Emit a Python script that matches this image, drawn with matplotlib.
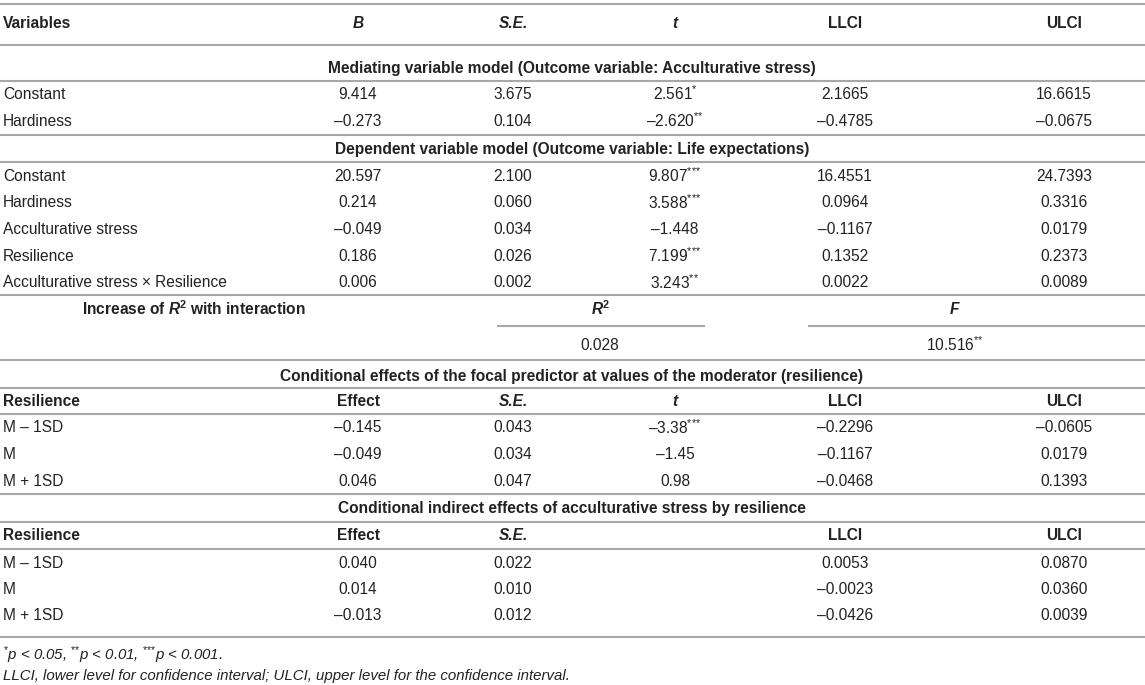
import matplotlib
matplotlib.use("Agg")
import matplotlib.pyplot as plt
from matplotlib import font_manager as fm

plt.rcParams.update({
    "font.family": ["Liberation Sans", "DejaVu Sans"],
    "mathtext.fontset": "custom",
    "mathtext.rm": "Liberation Sans",
    "mathtext.it": "Liberation Sans:italic",
    "mathtext.bf": "Liberation Sans:bold",
    "mathtext.bfit": "Liberation Sans:bold:italic",
})
names = {f.name for f in fm.fontManager.ttflist}
NARROW = "Liberation Sans Narrow" if "Liberation Sans Narrow" in names else "Liberation Sans"

# ---------------------------------------------------------------- data
HEADERS = ["B", "S.E.", "t", "LLCI", "ULCI"]
HEAD_ITALIC = [True, True, True, False, False]

MED_TITLE = "Mediating variable model (Outcome variable: Acculturative stress)"
MED_VARS = ["Constant", "Hardiness"]
MED_B = [9.414, -0.273]
MED_SE = [3.675, 0.104]
MED_T = [2.561, -2.620]
MED_SIG = ["*", "**"]
MED_LL = [2.1665, -0.4785]
MED_UL = [16.6615, -0.0675]

DEP_TITLE = "Dependent variable model (Outcome variable: Life expectations)"
DEP_VARS = ["Constant", "Hardiness", "Acculturative stress", "Resilience",
            "Acculturative stress \u00d7 Resilience"]
DEP_B = [20.597, 0.214, -0.049, 0.186, 0.006]
DEP_SE = [2.100, 0.060, 0.034, 0.026, 0.002]
DEP_T = [9.807, 3.588, -1.448, 7.199, 3.243]
DEP_SIG = ["***", "***", "", "***", "**"]
DEP_LL = [16.4551, 0.0964, -0.1167, 0.1352, 0.0022]
DEP_UL = [24.7393, 0.3316, 0.0179, 0.2373, 0.0089]

R2_VAL = 0.028
F_VAL = 10.516
F_SIG = "**"

COND_TITLE = "Conditional effects of the focal predictor at values of the moderator (resilience)"
LEVELS = ["M \u2013 1SD", "M", "M + 1SD"]
COND_EFF = [-0.145, -0.049, 0.046]
COND_SE = [0.043, 0.034, 0.047]
COND_T = [-3.38, -1.45, 0.98]
COND_SIG = ["***", "", ""]
COND_LL = [-0.2296, -0.1167, -0.0468]
COND_UL = [-0.0605, 0.0179, 0.1393]

IND_TITLE = "Conditional indirect effects of acculturative stress by resilience"
IND_EFF = [0.040, 0.014, -0.013]
IND_SE = [0.022, 0.010, 0.012]
IND_LL = [0.0053, -0.0023, -0.0426]
IND_UL = [0.0870, 0.0360, 0.0039]

FOOT1 = r"$^{{*}}$p < 0.05, $^{{*}{*}}$p < 0.01, $^{{*}{*}{*}}$p < 0.001."
FOOT2 = "LLCI, lower level for confidence interval; ULCI, upper level for the confidence interval."

# ---------------------------------------------------------------- layout
W, H = 1145, 685
COLX = [358, 513, 675, 845, 1064]
LEFT = 3
MID = 572
FS = 11.2
TXT = "#222222"
LINE = "#a8a8a8"

fig = plt.figure(figsize=(W / 100, H / 100), dpi=100)
ax = fig.add_axes([0, 0, 1, 1])
ax.set_xlim(0, W); ax.set_ylim(H, 0); ax.axis("off")


def stars(sig):
    # braces keep mathtext from spacing "*" like a binary operator
    return r"$^{" + "".join("{*}" for _ in sig) + "}$" if sig else ""


def num(v, d, sig=""):
    return f"{v:.{d}f}".replace("-", "\u2013") + stars(sig)


def put(x, y, s, ha="center", **kw):
    kw.setdefault("fontsize", FS)
    kw.setdefault("color", TXT)
    ax.text(x, y, s, ha=ha, va="center", **kw)


def hline(y, x0=0, x1=W):
    ax.plot([x0, x1], [y, y], color=LINE, lw=1.5, solid_capstyle="butt")


def row(y, label, vals, bold=False):
    put(LEFT, y, label, ha="left", fontweight="bold" if bold else "normal")
    for x, v in zip(COLX, vals):
        if v is not None:
            put(x, y, v)


for y in [4, 45, 81, 135, 162, 295, 360, 388, 414, 494, 522, 549, 637]:
    hline(y)

# header
put(LEFT, 23, "Variables", ha="left", fontweight="bold")
for x, hd, it in zip(COLX, HEADERS, HEAD_ITALIC):
    put(x, 23, hd, fontweight="bold", fontstyle="italic" if it else "normal")

# mediating model
put(MID, 68, MED_TITLE, fontweight="bold")
for i, y in enumerate([94, 121]):
    row(y, MED_VARS[i], [num(MED_B[i], 3), num(MED_SE[i], 3), num(MED_T[i], 3, MED_SIG[i]),
                         num(MED_LL[i], 4), num(MED_UL[i], 4)])

# dependent model
put(MID, 149, DEP_TITLE, fontweight="bold")
for i, y in enumerate([176, 202.5, 229, 256, 282.5]):
    row(y, DEP_VARS[i], [num(DEP_B[i], 3), num(DEP_SE[i], 3), num(DEP_T[i], 3, DEP_SIG[i]),
                         num(DEP_LL[i], 4), num(DEP_UL[i], 4)])

# R2 change
put(194, 309, r"Increase of $\mathbfit{R}^{\mathbf{2}}$ with interaction", family=NARROW, fontweight="bold")
put(600, 309, r"$\mathbfit{R}^{\mathbf{2}}$", family=NARROW)
put(955, 309, r"$\mathbfit{F}$", family=NARROW)
hline(326, 497, 705)
hline(326, 808, W)
put(600, 345, num(R2_VAL, 3), family=NARROW)
put(955, 345, num(F_VAL, 3, F_SIG), family=NARROW)

# conditional effects
put(MID, 376, COND_TITLE, fontweight="bold")
put(LEFT, 401, "Resilience", ha="left", fontweight="bold")
for x, hd, it in zip(COLX, ["Effect", "S.E.", "t", "LLCI", "ULCI"], [False, True, True, False, False]):
    put(x, 401, hd, fontweight="bold", fontstyle="italic" if it else "normal")
for i, y in enumerate([427.5, 454, 481]):
    row(y, LEVELS[i], [num(COND_EFF[i], 3), num(COND_SE[i], 3), num(COND_T[i], 2, COND_SIG[i]),
                       num(COND_LL[i], 4), num(COND_UL[i], 4)])

# indirect effects
put(MID, 509, IND_TITLE, fontweight="bold")
put(LEFT, 536, "Resilience", ha="left", fontweight="bold")
for x, hd, it in zip(COLX, ["Effect", "S.E.", None, "LLCI", "ULCI"], [False, True, False, False, False]):
    if hd:
        put(x, 536, hd, fontweight="bold", fontstyle="italic" if it else "normal")
for i, y in enumerate([563, 589, 616]):
    row(y, LEVELS[i], [num(IND_EFF[i], 3), num(IND_SE[i], 3), None,
                       num(IND_LL[i], 4), num(IND_UL[i], 4)])

# footnotes
put(LEFT, 655, FOOT1, ha="left", fontstyle="italic", fontsize=10.8)
put(LEFT, 676, FOOT2, ha="left", fontstyle="italic", fontsize=10.8)

fig.savefig("out.png", dpi=100)
